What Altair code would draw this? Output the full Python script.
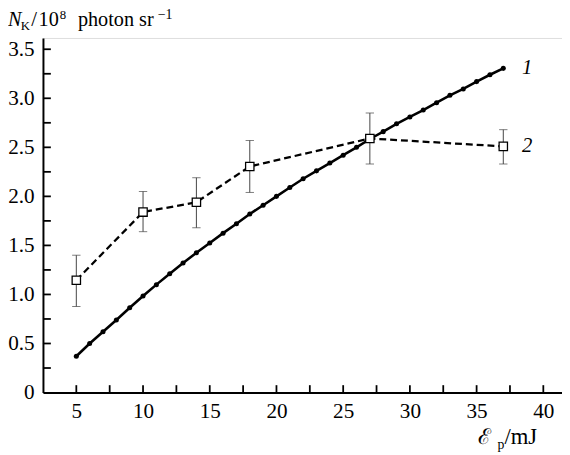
import altair as alt
import pandas as pd

# ---- data ----
x1 = list(range(5, 38))
y1 = [0.37, 0.50, 0.62, 0.74, 0.865, 0.985, 1.10, 1.21, 1.32, 1.425, 1.525,
      1.625, 1.72, 1.82, 1.91, 2.00, 2.09, 2.18, 2.26, 2.34, 2.42, 2.50,
      2.585, 2.66, 2.74, 2.81, 2.88, 2.955, 3.03, 3.095, 3.17, 3.24, 3.305]

x2 = [5, 10, 14, 18, 27, 37]
y2 = [1.145, 1.84, 1.94, 2.305, 2.59, 2.51]
lo2 = [0.877, 1.64, 1.68, 2.04, 2.33, 2.33]
hi2 = [1.40, 2.05, 2.19, 2.57, 2.85, 2.68]

series_labels = ["1", "2"]
x_ticks = [5, 7.5, 10, 12.5, 15, 17.5, 20, 22.5, 25, 27.5, 30, 32.5, 35, 37.5, 40]
x_tick_labels = [5, 10, 15, 20, 25, 30, 35, 40]
y_ticks = [0.25, 0.5, 0.75, 1.0, 1.25, 1.5, 1.75, 2.0, 2.25, 2.5, 2.75, 3.0, 3.25, 3.5]
y_tick_labels = [0, 0.5, 1.0, 1.5, 2.0, 2.5, 3.0, 3.5]

X_DOM = [2.5, 41.4]
Y_DOM = [0, 3.615]

# ---- layout ----
PL, PT = 43.5, 35.0      # page coords of plot origin
W, H = 527, 360
SERIF = "'Liberation Serif', 'Times New Roman', 'DejaVu Serif', serif"

df1 = pd.DataFrame({"x": x1, "y": y1})
df2 = pd.DataFrame({"x": x2, "y": y2, "lo": lo2, "hi": hi2})
dfl = pd.DataFrame({"x": [x1[-1], x2[-1]], "y": [y1[-1], y2[-1]], "t": series_labels})
dxt = pd.DataFrame({"x": x_ticks})
dyt = pd.DataFrame({"y": y_ticks})
dummy = pd.DataFrame({"a": [0]})

xs = alt.Scale(domain=X_DOM, nice=False, zero=False)
ys = alt.Scale(domain=Y_DOM, nice=False, zero=False)

x_axis = alt.Axis(values=x_tick_labels, ticks=False, grid=False, title=None,
                  domainColor="black", domainWidth=2, labelFont=SERIF,
                  labelFontSize=21.5, labelColor="black", labelPadding=8,
                  labelFlush=False)
y_axis = alt.Axis(values=y_tick_labels, ticks=False, grid=False, title=None,
                  domainColor="black", domainWidth=2, labelFont=SERIF,
                  labelFontSize=21.5, labelColor="black", labelPadding=9,
                  labelExpr="datum.value == 0 ? '0' : format(datum.value, '.1f')")

base_axes = alt.Chart(df1).mark_point(opacity=0).encode(
    x=alt.X("x:Q", scale=xs, axis=x_axis),
    y=alt.Y("y:Q", scale=ys, axis=y_axis),
)

# inward ticks
xtick = alt.Chart(dxt).mark_rule(color="black", strokeWidth=1.8).encode(
    x=alt.X("x:Q", scale=xs),
    y=alt.datum(0),
    y2=alt.datum(0.075),
)
ytick = alt.Chart(dyt).mark_rule(color="black", strokeWidth=1.8).encode(
    y=alt.Y("y:Q", scale=ys),
    x=alt.datum(2.5),
    x2=alt.datum(2.5 + 8 / 13.54),
)

enc2 = dict(x=alt.X("x:Q", scale=xs), y=alt.Y("y:Q", scale=ys))

line2 = alt.Chart(df2).mark_line(color="black", strokeWidth=2.3,
                                 strokeDash=[7, 4]).encode(**enc2)
err = alt.Chart(df2).mark_rule(color="#444444", strokeWidth=1).encode(
    x=alt.X("x:Q", scale=xs), y=alt.Y("lo:Q", scale=ys), y2="hi:Q")
cap_lo = alt.Chart(df2).mark_tick(color="#444444", orient="horizontal",
                                  size=8.5, thickness=1).encode(
    x=alt.X("x:Q", scale=xs), y=alt.Y("lo:Q", scale=ys))
cap_hi = alt.Chart(df2).mark_tick(color="#444444", orient="horizontal",
                                  size=8.5, thickness=1).encode(
    x=alt.X("x:Q", scale=xs), y=alt.Y("hi:Q", scale=ys))

line1 = alt.Chart(df1).mark_line(color="black", strokeWidth=2.6).encode(**enc2)
pts1 = alt.Chart(df1).mark_point(filled=True, color="black", size=26,
                                 opacity=1).encode(**enc2)

sq2 = alt.Chart(df2).mark_point(shape="square", size=72, fill="white",
                                stroke="black", strokeWidth=1.3,
                                opacity=1, fillOpacity=1).encode(**enc2)

lbls = alt.Chart(dfl).mark_text(font=SERIF, fontSize=21, fontStyle="italic",
                                align="left", baseline="middle", dx=19,
                                color="black").encode(
    x=alt.X("x:Q", scale=xs), y=alt.Y("y:Q", scale=ys), text="t:N")


def piece(txt, px, py, size, italic=False):
    return alt.Chart(dummy).mark_text(
        text=txt, font=SERIF, fontSize=size,
        fontStyle="italic" if italic else "normal",
        align="left", baseline="alphabetic", color="black",
    ).encode(x=alt.value(px - PL), y=alt.value(py - PT))


TB = 23  # title baseline (page px)
title_parts = [
    piece("N", 8, TB, 20.5, True),
    piece("K", 21, TB + 4, 13),
    piece("/", 31.5, TB, 21),
    piece("10", 39, TB, 20.5),
    piece("8", 60.5, TB - 7, 13),
    piece("photon sr", 79, TB, 20.5),
    piece("\u22121", 160, TB - 7, 14),
]
xlab_parts = [
    piece("\u2130", 485, 447, 22),
    piece("p", 505, 452, 14),
    piece("/mJ", 512, 447, 23),
]

chart = alt.layer(
    base_axes, xtick, ytick, line2, err, cap_lo, cap_hi, line1, pts1, sq2,
    lbls, *title_parts, *xlab_parts,
).properties(
    width=W, height=H,
    autosize=alt.AutoSizeParams(type="none"),
    padding={"left": PL - 8, "top": PT - 8, "right": 0, "bottom": 60},
).configure_view(stroke=None).configure(background="white")

chart.save("out.html", embed_options={"renderer": "svg", "actions": False})
